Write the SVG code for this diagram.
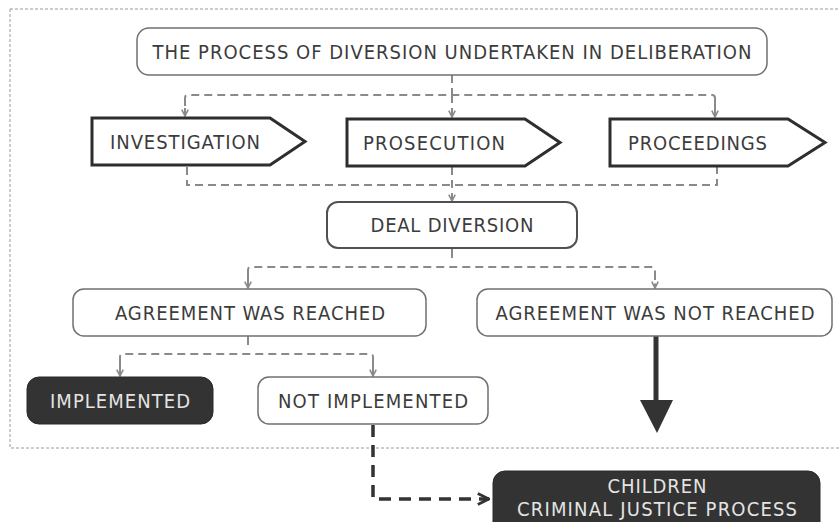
<svg xmlns="http://www.w3.org/2000/svg" width="840" height="522" viewBox="0 0 840 522">
  <style>
    .t { font-family: "DejaVu Sans Condensed", "DejaVu Sans", "Liberation Sans", sans-serif; font-size: 20px; fill: #3c3c3c; text-anchor: middle; }
    .tw { font-family: "DejaVu Sans Condensed", "DejaVu Sans", "Liberation Sans", sans-serif; font-size: 20px; fill: #e4e4e4; text-anchor: middle; }
    .box { fill: #ffffff; stroke: #707070; stroke-width: 1.5; }
    .boxd { fill: #ffffff; stroke: #505050; stroke-width: 2; }
    .dark { fill: #333333; stroke: #2a2a2a; stroke-width: 1; }
    .pent { fill: #ffffff; stroke: #2e2e2e; stroke-width: 3; stroke-linejoin: miter; }
    .dash { fill: none; stroke: #8a8a8a; stroke-width: 2; stroke-dasharray: 8 5; }
    .solid { fill: none; stroke: #8a8a8a; stroke-width: 2; }
    .dashd { fill: none; stroke: #333333; stroke-width: 3.5; stroke-dasharray: 12 8; }
  </style>
  <defs>
    <marker id="chev" viewBox="0 0 10 10" refX="9" refY="5" markerWidth="8" markerHeight="8" markerUnits="userSpaceOnUse" orient="auto">
      <path d="M1,1 L9,5 L1,9" fill="none" stroke="#8a8a8a" stroke-width="2"/>
    </marker>
    <marker id="chevd" viewBox="0 0 10 10" refX="9" refY="5" markerWidth="14" markerHeight="14" markerUnits="userSpaceOnUse" orient="auto">
      <path d="M1,1 L9,5 L1,9" fill="none" stroke="#333333" stroke-width="2"/>
    </marker>
  </defs>

  <rect id="frame" x="10" y="9" width="840" height="439" fill="none" stroke="#9a9a9a" stroke-width="1" stroke-dasharray="3 2"/>

  <g id="connectors">
    <path class="dash" d="M452,75 V95"/>
    <path class="dash" d="M185,116 V98 Q185,95 188,95 H712 Q715,95 715,98 V116"/>
    <path class="dash" d="M185,98 V116" marker-end="url(#chev)"/>
    <path class="dash" d="M452,95 V117" marker-end="url(#chev)"/>
    <path class="dash" d="M715,98 V117" marker-end="url(#chev)"/>

    <path class="dash" d="M187,167 V185 H717 V167"/>
    <path class="dash" d="M452,167 V201" marker-end="url(#chev)"/>

    <path class="solid" d="M452,248 V258"/>
    <path class="dash" d="M248,288 V270 Q248,267 251,267 H652 Q655,267 655,270 V288"/>
    <path class="dash" d="M248,272 V288" marker-end="url(#chev)"/>
    <path class="dash" d="M655,272 V288" marker-end="url(#chev)"/>

    <path class="solid" d="M248,336 V345"/>
    <path class="dash" d="M120,376 V357 Q120,354 123,354 H370 Q373,354 373,357 V376"/>
    <path class="dash" d="M120,360 V376" marker-end="url(#chev)"/>
    <path class="dash" d="M373,360 V376" marker-end="url(#chev)"/>

    <line x1="656" y1="336" x2="656" y2="403" stroke="#333333" stroke-width="5"/>
    <polygon points="640,400 673,400 657,433" fill="#333333"/>

    <path class="dashd" d="M373,425 V499 H489" marker-end="url(#chevd)"/>
  </g>

  <g id="node-top">
    <rect class="box" x="137" y="28" width="630" height="47" rx="12" stroke="#9a9a9a"/>
    <text class="t" x="452" y="59" textLength="599">THE PROCESS OF DIVERSION UNDERTAKEN IN DELIBERATION</text>
  </g>

  <g id="node-investigation">
    <polygon class="pent" points="92,118 270,118 305,141.5 270,165 92,165"/>
    <text class="t" x="185" y="148.5" textLength="150">INVESTIGATION</text>
  </g>
  <g id="node-prosecution">
    <polygon class="pent" points="347,119 525,119 560,142.5 525,166 347,166"/>
    <text class="t" x="434" y="149.5" textLength="142">PROSECUTION</text>
  </g>
  <g id="node-proceedings">
    <polygon class="pent" points="610,119 788,119 825,142.5 788,166 610,166"/>
    <text class="t" x="697.5" y="149.5" textLength="139">PROCEEDINGS</text>
  </g>

  <g id="node-deal">
    <rect class="boxd" x="327" y="202" width="250" height="46" rx="11"/>
    <text class="t" x="452" y="232" textLength="163">DEAL DIVERSION</text>
  </g>

  <g id="node-reached">
    <rect class="box" x="73" y="289" width="353" height="47" rx="11"/>
    <text class="t" x="250" y="319.5" textLength="270">AGREEMENT WAS REACHED</text>
  </g>
  <g id="node-notreached">
    <rect class="box" x="477" y="289" width="355" height="47" rx="11"/>
    <text class="t" x="655" y="319.5" textLength="319">AGREEMENT WAS NOT REACHED</text>
  </g>

  <g id="node-implemented">
    <rect class="dark" x="27" y="377" width="186" height="47" rx="12"/>
    <text class="tw" x="120" y="408" textLength="140">IMPLEMENTED</text>
  </g>
  <g id="node-notimplemented">
    <rect class="box" x="258" y="377" width="230" height="47" rx="11"/>
    <text class="t" x="373" y="408" textLength="190">NOT IMPLEMENTED</text>
  </g>

  <g id="node-children">
    <rect class="dark" x="493" y="471" width="327" height="70" rx="12"/>
    <text class="tw" x="657" y="492.5" textLength="99">CHILDREN</text>
    <text class="tw" x="657" y="515.5" textLength="280">CRIMINAL JUSTICE PROCESS</text>
  </g>
</svg>
